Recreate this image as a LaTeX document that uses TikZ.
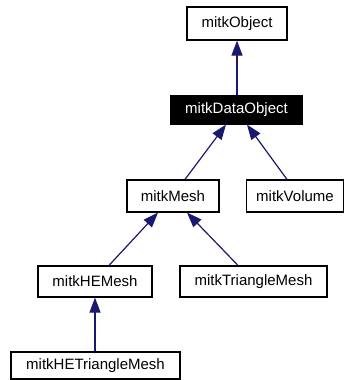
\documentclass[tikz,border=0pt]{standalone}
\usepackage{fontspec}
\setmainfont{Liberation Sans}
\usetikzlibrary{arrows.meta,calc}
\definecolor{edgeblue}{HTML}{191970}
\begin{document}
\begin{tikzpicture}[x=1pt,y=-1pt,
  cls/.style={draw=black, line width=1.2pt, fill=white, inner sep=0pt,
    font=\fontsize{15}{18}\selectfont, minimum height=32pt},
  current/.style={cls, fill=black, text=white},
  edge/.style={draw=edgeblue, line width=1.2pt,
    {Triangle[length=15pt,width=11pt]}-}]
  \useasboundingbox (0,0) rectangle (346,380);
  \node[cls, minimum width=100pt, minimum height=33pt] (obj) at (237,23.5) {mitkObject};
  \node[current, minimum width=131pt, minimum height=28pt] (dobj) at (236.5,110) {mitkDataObject};
  \node[cls, minimum width=92pt] (mesh) at (173,196) {mitkMesh};
  \node[cls, minimum width=97pt] (vol) at (295,196) {mitkVolume};
  \node[cls, minimum width=114pt, minimum height=31pt] (hem) at (95,281.5) {mitkHEMesh};
  \node[cls, minimum width=169pt, minimum height=27pt] (hetri) at (95.5,365.5) {mitkHETriangleMesh};
  \node[cls, minimum width=147pt, minimum height=31pt] (tri) at (253.5,281.5) {mitkTriangleMesh};

  \draw[edge] (obj.south) -- (obj.south |- dobj.north);
  \draw[edge] ([xshift=-10.5pt]dobj.south) -- ([xshift=12pt]mesh.north);
  \draw[edge] ([xshift=10.5pt]dobj.south) -- ([xshift=-8pt]vol.north);
  \draw[edge] ([xshift=-15pt]mesh.south) -- ([xshift=14pt]hem.north);
  \draw[edge] ([xshift=14pt]mesh.south) -- ([xshift=-15.5pt]tri.north);
  \draw[edge] (hem.south) -- (hem.south |- hetri.north);
\end{tikzpicture}
\end{document}
